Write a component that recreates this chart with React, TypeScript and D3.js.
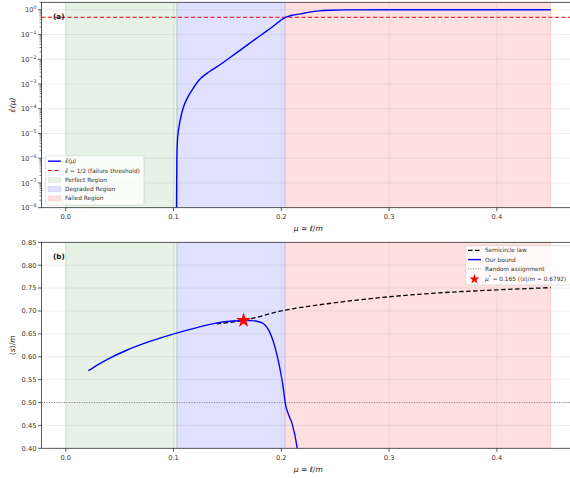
import React from 'react';
import * as d3 from 'd3';

// x positions for both panels
const xTicks = [0.0, 0.1, 0.2, 0.3, 0.4];

// regions (mu boundaries)
const regions = [
  { name: 'Perfect Region', from: 0.0, to: 0.1032, color: 'green', alpha: 0.1 },
  { name: 'Degraded Region', from: 0.1032, to: 0.2035, color: 'blue', alpha: 0.12 },
  { name: 'Failed Region', from: 0.2035, to: 0.45, color: 'red', alpha: 0.12 }
];

// panel (a): epsilon-hat(mu)
const epsMu = [0.1028, 0.1029, 0.1031, 0.1036, 0.1045, 0.1065, 0.109, 0.113, 0.1173, 0.125, 0.1335, 0.1405, 0.16, 0.18, 0.19, 0.2044, 0.21, 0.2176, 0.225, 0.235, 0.245, 0.26, 0.3, 0.35, 0.4, 0.45];
const epsVal = [1e-8, 1e-7, 1e-6, 5e-6, 1.26e-5, 4e-5, 1.1e-4, 2.8e-4, 5.8e-4, 1.65e-3, 3.2e-3, 5e-3, 2.04e-2, 8.7e-2, 0.178, 0.5, 0.6, 0.68, 0.78, 0.9, 0.96, 0.99, 1.0, 1.0, 1.0, 1.0];
const yTicksA = [-8, -7, -6, -5, -4, -3, -2, -1, 0];

// panel (b)
const semiMu = [0.14, 0.165, 0.2, 0.25, 0.3, 0.35, 0.4, 0.45];
const semiVal = [0.672, 0.6795, 0.700, 0.718, 0.731, 0.740, 0.746, 0.751];
const boundMu = [0.021, 0.03, 0.04, 0.057, 0.0787, 0.102, 0.125, 0.1405, 0.155, 0.165, 0.172, 0.178, 0.1836, 0.1883, 0.194, 0.199, 0.2021, 0.2037, 0.2068, 0.2099, 0.2145, 0.2155];
const boundVal = [0.5695, 0.583, 0.596, 0.6147, 0.634, 0.651, 0.6657, 0.674, 0.678, 0.6792, 0.679, 0.677, 0.672, 0.658, 0.622, 0.571, 0.527, 0.498, 0.473, 0.455, 0.4035, 0.385];
const yTicksB = [0.40, 0.45, 0.50, 0.55, 0.60, 0.65, 0.70, 0.75, 0.80, 0.85];
const muStar = 0.165;
const sStar = 0.6792;

const FONT = 'DejaVu Sans, sans-serif';
const TICK = '#333';

export default function App() {
  const W = 570, H = 478;
  const left = 41.5, right = 575;
  const x = d3.scaleLinear().domain([-0.0225, 0.4725]).range([left, right]);

  const aTop = 2.3, aBot = 207.7;
  const yA = d3.scaleLog().domain([1e-8, 2]).range([aBot, aTop]);
  const bTop = 242.3, bBot = 448.3;
  const yB = d3.scaleLinear().domain([0.4, 0.85]).range([bBot, bTop]);

  const lineA = d3.line<number>()
    .x((d, i) => x(epsMu[i]))
    .y(d => yA(d))
    .curve(d3.curveMonotoneX);
  const lineSemi = d3.line<number>()
    .x((d, i) => x(semiMu[i]))
    .y(d => yB(d))
    .curve(d3.curveMonotoneX);
  const lineBound = d3.line<number>()
    .x((d, i) => x(boundMu[i]))
    .y(d => yB(d))
    .curve(d3.curveMonotoneX);

  const minorA: number[] = [];
  for (let e = -8; e <= 0; e++) for (let k = 2; k <= 9; k++) {
    const v = k * Math.pow(10, e);
    if (v <= 2) minorA.push(v);
  }

  const star = d3.symbol().type(d3.symbolStar).size(70)() as string;
  const starSmall = d3.symbol().type(d3.symbolStar).size(32)() as string;

  const regionRects = (top: number, bot: number) => regions.map(r => (
    <rect key={r.name} x={x(r.from)} y={top} width={x(r.to) - x(r.from)} height={bot - top}
      fill={r.color} fillOpacity={r.alpha} stroke={r.color} strokeOpacity={r.alpha} strokeWidth={1} />
  ));

  const xAxis = (top: number, bot: number) => (
    <g>
      {xTicks.map(t => (
        <line key={'g' + t} x1={x(t)} x2={x(t)} y1={top} y2={bot} stroke="#b0b0b0" strokeOpacity={0.3} strokeWidth={0.8} />
      ))}
      {xTicks.map(t => (
        <g key={'t' + t}>
          <line x1={x(t)} x2={x(t)} y1={bot} y2={bot + 3.5} stroke={TICK} strokeWidth={0.8} />
          <text x={x(t)} y={bot + 11.5} textAnchor="middle" fontSize={6.7} fill={TICK}>{t.toFixed(1)}</text>
        </g>
      ))}
    </g>
  );

  const spines = (top: number, bot: number) => (
    <rect x={left} y={top} width={right - left} height={bot - top} fill="none" stroke="#333" strokeWidth={0.8} />
  );

  const xLabel = (yy: number) => (
    <text x={(left + right) / 2} y={yy} textAnchor="middle" fontSize={7.6} fill="#222">
      <tspan fontStyle="italic">μ</tspan> = <tspan fontStyle="italic">ℓ</tspan>/<tspan fontStyle="italic">m</tspan>
    </text>
  );

  const legRow = 9.3;

  return (
    <svg width={W} height={H} style={{ position: 'absolute', left: 0, top: 0, background: '#fff' }} fontFamily={FONT}>
      <defs>
        <clipPath id="clipA"><rect x={left} y={aTop} width={right - left} height={aBot - aTop} /></clipPath>
        <clipPath id="clipB"><rect x={left} y={bTop} width={right - left} height={bBot - bTop} /></clipPath>
      </defs>

      {/* panel (a) */}
      <g clipPath="url(#clipA)">
        {regionRects(aTop, aBot)}
        {yTicksA.map(e => (
          <line key={e} x1={left} x2={right} y1={yA(Math.pow(10, e))} y2={yA(Math.pow(10, e))} stroke="#b0b0b0" strokeOpacity={0.3} strokeWidth={0.8} />
        ))}
        <line x1={left} x2={right} y1={yA(0.5)} y2={yA(0.5)} stroke="#e00" strokeWidth={1.1} strokeDasharray="4,2.5" />
        <path d={lineA(epsVal) || ''} fill="none" stroke="#0000ff" strokeWidth={1.4} />
      </g>
      {xAxis(aTop, aBot)}
      {spines(aTop, aBot)}
      {minorA.map((v, i) => (
        <line key={i} x1={left - 2} x2={left} y1={yA(v)} y2={yA(v)} stroke={TICK} strokeWidth={0.6} />
      ))}
      {yTicksA.map(e => (
        <g key={e}>
          <line x1={left - 3.5} x2={left} y1={yA(Math.pow(10, e))} y2={yA(Math.pow(10, e))} stroke={TICK} strokeWidth={0.8} />
          <text x={left - 5} y={yA(Math.pow(10, e)) + 2.6} textAnchor="end" fontSize={6.7} fill={TICK}>
            10<tspan dy={-3.2} fontSize={4.8}>{e === 0 ? '0' : '−' + (-e)}</tspan>
          </text>
        </g>
      ))}
      {xLabel(231)}
      <text transform={`translate(15,${(aTop + aBot) / 2}) rotate(-90)`} textAnchor="middle" fontSize={7.6} fill="#222" fontStyle="italic">ε̂(μ)</text>
      <text x={53} y={18.5} fontSize={7.2} fontWeight="bold" fill="#111">(a)</text>

      {/* legend (a) */}
      <g>
        <rect x={45.7} y={155.7} width={98.3} height={49.3} rx={2} fill="#fff" fillOpacity={0.8} stroke="#ccc" strokeWidth={0.6} />
        <line x1={48} x2={61} y1={161.2} y2={161.2} stroke="#0000ff" strokeWidth={1.4} />
        <text x={65} y={163.2} fontSize={5.8} fill="#333" fontStyle="italic">ε̂(μ)</text>
        <line x1={48} x2={61} y1={161.2 + legRow} y2={161.2 + legRow} stroke="#e00" strokeWidth={1.1} strokeDasharray="4,2.5" />
        <text x={65} y={163.2 + legRow} fontSize={5.8} fill="#333"><tspan fontStyle="italic">ε̂</tspan> = 1/2 (failure threshold)</text>
        {regions.map((r, i) => (
          <g key={r.name}>
            <rect x={48} y={161.2 + legRow * (i + 2) - 2.5} width={13} height={5} fill={r.color} fillOpacity={r.alpha} stroke={r.color} strokeOpacity={r.alpha} strokeWidth={0.8} />
            <text x={65} y={163.2 + legRow * (i + 2)} fontSize={5.8} fill="#333">{r.name}</text>
          </g>
        ))}
      </g>

      {/* panel (b) */}
      <g clipPath="url(#clipB)">
        {regionRects(bTop, bBot)}
        {yTicksB.map(t => (
          <line key={t} x1={left} x2={right} y1={yB(t)} y2={yB(t)} stroke="#b0b0b0" strokeOpacity={0.3} strokeWidth={0.8} />
        ))}
        <line x1={left} x2={right} y1={yB(0.5)} y2={yB(0.5)} stroke="#888" strokeWidth={1} strokeDasharray="1,1.5" />
        <path d={lineSemi(semiVal) || ''} fill="none" stroke="#000" strokeWidth={1.3} strokeDasharray="4.5,2.5" />
        <path d={lineBound(boundVal) || ''} fill="none" stroke="#0000ff" strokeWidth={1.4} />
        <path d={star} transform={`translate(${x(muStar)},${yB(sStar)})`} fill="#ff0000" />
      </g>
      {xAxis(bTop, bBot)}
      {spines(bTop, bBot)}
      {yTicksB.map(t => (
        <g key={t}>
          <line x1={left - 3.5} x2={left} y1={yB(t)} y2={yB(t)} stroke={TICK} strokeWidth={0.8} />
          <text x={left - 5} y={yB(t) + 2.4} textAnchor="end" fontSize={6.7} fill={TICK}>{t.toFixed(2)}</text>
        </g>
      ))}
      {xLabel(471.5)}
      <text transform={`translate(15,${(bTop + bBot) / 2}) rotate(-90)`} textAnchor="middle" fontSize={7.6} fill="#222">
        ⟨<tspan fontStyle="italic">s</tspan>⟩/<tspan fontStyle="italic">m</tspan>
      </text>
      <text x={53} y={258.5} fontSize={7.2} fontWeight="bold" fill="#111">(b)</text>

      {/* legend (b) */}
      <g>
        <rect x={465.7} y={245.7} width={110} height={39.3} rx={2} fill="#fff" fillOpacity={0.8} stroke="#ccc" strokeWidth={0.6} />
        <line x1={468} x2={481} y1={250.3} y2={250.3} stroke="#000" strokeWidth={1.3} strokeDasharray="4.5,2.5" />
        <text x={485} y={252.3} fontSize={5.8} fill="#333">Semicircle law</text>
        <line x1={468} x2={481} y1={259.6} y2={259.6} stroke="#0000ff" strokeWidth={1.4} />
        <text x={485} y={261.6} fontSize={5.8} fill="#333">Our bound</text>
        <line x1={468} x2={481} y1={268.9} y2={268.9} stroke="#888" strokeWidth={1} strokeDasharray="1,1.5" />
        <text x={485} y={270.9} fontSize={5.8} fill="#333">Random assignment</text>
        <path d={starSmall} transform="translate(474.5,279.2)" fill="#ff0000" />
        <text x={485} y={280.6} fontSize={5.8} fill="#333">
          <tspan fontStyle="italic">μ</tspan><tspan dy={-2.5} fontSize={4.2}>*</tspan><tspan dy={2.5}> = 0.165 (⟨</tspan><tspan fontStyle="italic">s</tspan>⟩/<tspan fontStyle="italic">m</tspan> = 0.6792)
        </text>
      </g>
    </svg>
  );
}
